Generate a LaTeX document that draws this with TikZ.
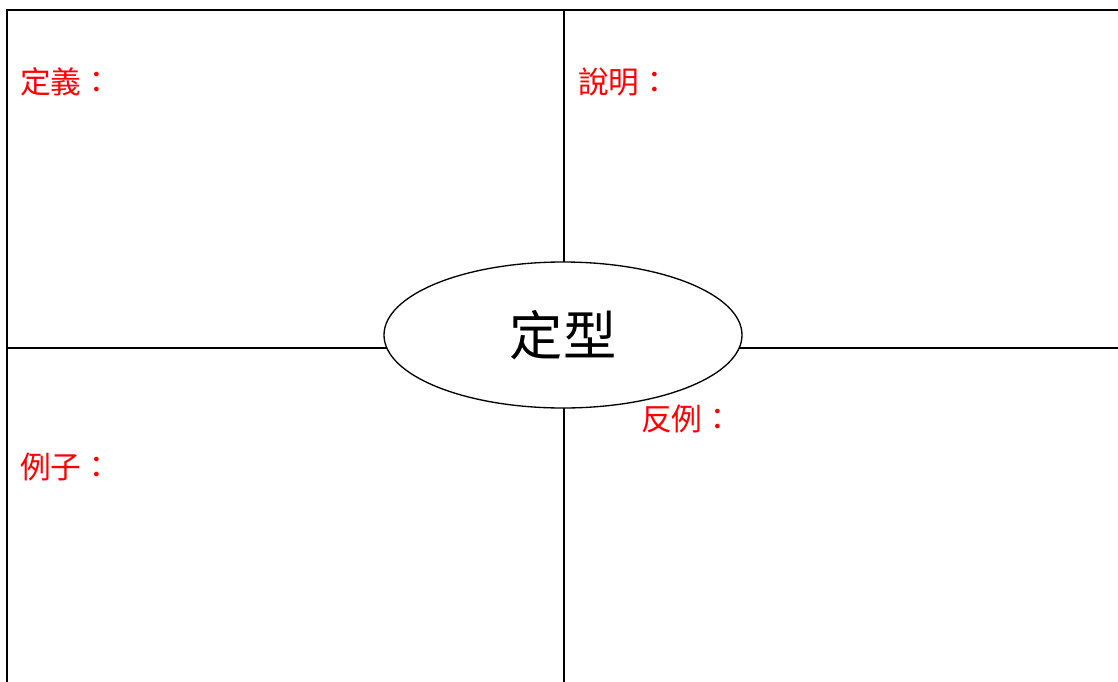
\documentclass[tikz,border=0pt]{standalone}
\usepackage{fontspec}
\usepackage{xcolor}
\usetikzlibrary{shapes.geometric}
\newfontfamily\cjk{Noto Sans CJK TC}
\definecolor{frame}{HTML}{000000}
\definecolor{tag}{HTML}{FF0000}
\tikzset{
  grid/.style={draw=frame, line width=1.5pt},
  core/.style={ellipse, draw=frame, fill=white, line width=1pt, inner sep=0pt,
    minimum width=268.5pt, minimum height=109.5pt, font=\cjk\fontsize{40}{40}\selectfont},
  tag/.style={text=tag, anchor=west, inner sep=0pt, font=\cjk\fontsize{23}{24}\selectfont},
}
\begin{document}
\begin{tikzpicture}[x=0.75pt, y=-0.75pt]
  \useasboundingbox (0,0) rectangle (1118,682);
  \clip (0,0) rectangle (1118,682);
  \coordinate (TL) at (7,10);
  \coordinate (TR) at (1130,10);
  \coordinate (BL) at (7,690);
  \coordinate (MT) at (564,10);
  \coordinate (MB) at (564,690);
  \coordinate (ML) at (7,348);
  \coordinate (MR) at (1130,348);
  \draw[grid] (BL) -- (TL) -- (TR);
  \draw[grid] (MT) -- (MB);
  \draw[grid] (ML) -- (MR);
  \node[core] (type) at (563,335) {定型};
  \node[tag] (defn) at (20,82) {定義：};
  \node[tag] (expl) at (578,82) {說明：};
  \node[tag] (exmp) at (20,467) {例子：};
  \node[tag] (cntr) at (641,419) {反例：};
\end{tikzpicture}
\end{document}
